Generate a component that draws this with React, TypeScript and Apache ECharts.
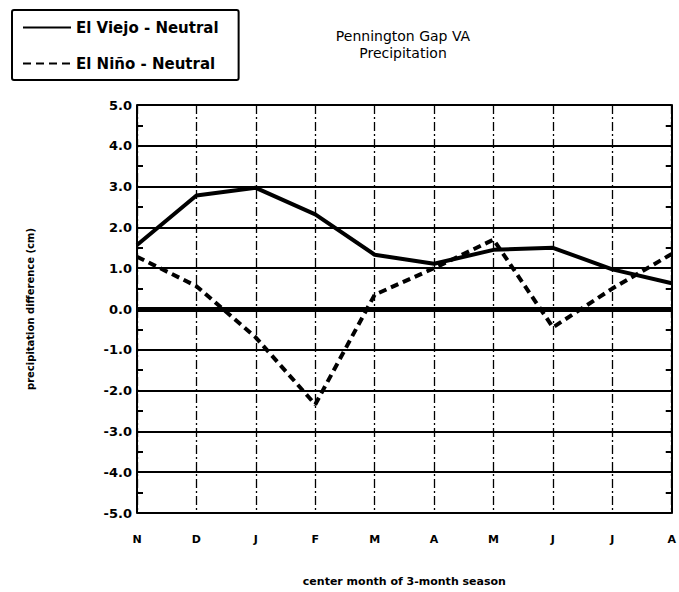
import React, { useEffect, useRef } from "react";
import * as echarts from "echarts";

const months = ["N", "D", "J", "F", "M", "A", "M", "J", "J", "A"];
const elViejo = [1.57, 2.78, 2.97, 2.32, 1.33, 1.11, 1.45, 1.5, 0.97, 0.63];
const elNino = [1.28, 0.56, -0.7, -2.34, 0.35, 1.0, 1.7, -0.45, 0.5, 1.35];
const seriesNames = ["El Viejo - Neutral", "El Niño - Neutral"];
const titleLines = ["Pennington Gap VA", "Precipitation"];
const yName = "precipitation difference (cm)";
const xName = "center month of 3-month season";

const FONT = "'Liberation Sans', Arial, sans-serif";
const WIDE = "'DejaVu Sans', sans-serif";

export default function App() {
  const ref = useRef<HTMLDivElement>(null);
  useEffect(() => {
    if (!ref.current) return;
    const chart = echarts.init(ref.current, undefined, { renderer: "svg" });
    const yAxisCommon = {
      type: "value" as const,
      min: -5,
      max: 5,
      interval: 1,
      axisLine: { show: true, lineStyle: { color: "#000", width: 2 } },
      axisTick: { show: false, inside: true },
      minorTick: {
        show: true,
        splitNumber: 2,
        length: 6,
        lineStyle: { color: "#000", width: 2 },
      },
    };
    chart.setOption({
      animation: false,
      backgroundColor: "#fff",
      textStyle: { fontFamily: FONT },
      legend: {
        orient: "vertical",
        left: 12,
        top: 10,
        itemWidth: 48,
        itemHeight: 14,
        itemGap: 21,
        padding: [10, 20, 9, 10],
        borderColor: "#000",
        borderWidth: 2,
        borderRadius: 2,
        lineStyle: { width: 2 },
        itemStyle: { opacity: 0 },
        textStyle: {
          fontSize: 15,
          fontWeight: "bold",
          color: "#000",
          fontFamily: WIDE,
        },
        data: seriesNames,
      },
      graphic: [
        {
          type: "text",
          x: 403,
          y: 27,
          style: {
            text: titleLines.join("\n"),
            textAlign: "center",
            textVerticalAlign: "top",
            font: `14px ${WIDE}`,
            lineHeight: 17,
            fill: "#000",
          },
        },
      ],
      grid: { left: 137, right: 6, top: 105, bottom: 73 },
      xAxis: {
        type: "category",
        data: months,
        boundaryGap: false,
        name: xName,
        nameLocation: "middle",
        nameGap: 63,
        nameTextStyle: { fontSize: 11, fontWeight: "bold", color: "#000", fontFamily: WIDE },
        axisLine: { show: true, lineStyle: { color: "#000", width: 2 } },
        axisTick: { show: false },
        axisLabel: {
          margin: 21,
          fontSize: 11,
          fontWeight: "bold",
          color: "#000",
          fontFamily: WIDE,
        },
        splitLine: {
          show: true,
          lineStyle: { color: "#000", width: 1.3, type: [9, 3, 2, 3] },
        },
      },
      yAxis: [
        {
          ...yAxisCommon,
          position: "left",
          name: yName,
          nameLocation: "middle",
          nameRotate: 90,
          nameGap: 102,
          nameTextStyle: { fontSize: 10, fontWeight: "bold", color: "#000", fontFamily: WIDE },
          axisLabel: {
            margin: 5,
            fontSize: 13,
            fontWeight: "bold",
            color: "#000",
            fontFamily: WIDE,
            formatter: (v: number) => v.toFixed(1),
          },
          splitLine: { show: true, lineStyle: { color: "#000", width: 1.8 } },
        },
        {
          ...yAxisCommon,
          position: "right",
          axisLabel: { show: false },
          splitLine: { show: false },
        },
      ],
      series: [
        {
          name: seriesNames[0],
          type: "line",
          data: elViejo,
          symbol: "none",
          lineStyle: { color: "#000", width: 4 },
          itemStyle: { color: "#000" },
          markLine: {
            silent: true,
            symbol: "none",
            label: { show: false },
            lineStyle: { color: "#000", width: 5, type: "solid" },
            data: [{ yAxis: 0 }],
          },
        },
        {
          name: seriesNames[1],
          type: "line",
          data: elNino,
          symbol: "none",
          lineStyle: { color: "#000", width: 4, type: [8, 5] },
          itemStyle: { color: "#000" },
        },
      ],
    });
    return () => chart.dispose();
  }, []);
  return <div ref={ref} style={{ width: 679, height: 592, position: "absolute", left: 0, top: 0 }} />;
}
